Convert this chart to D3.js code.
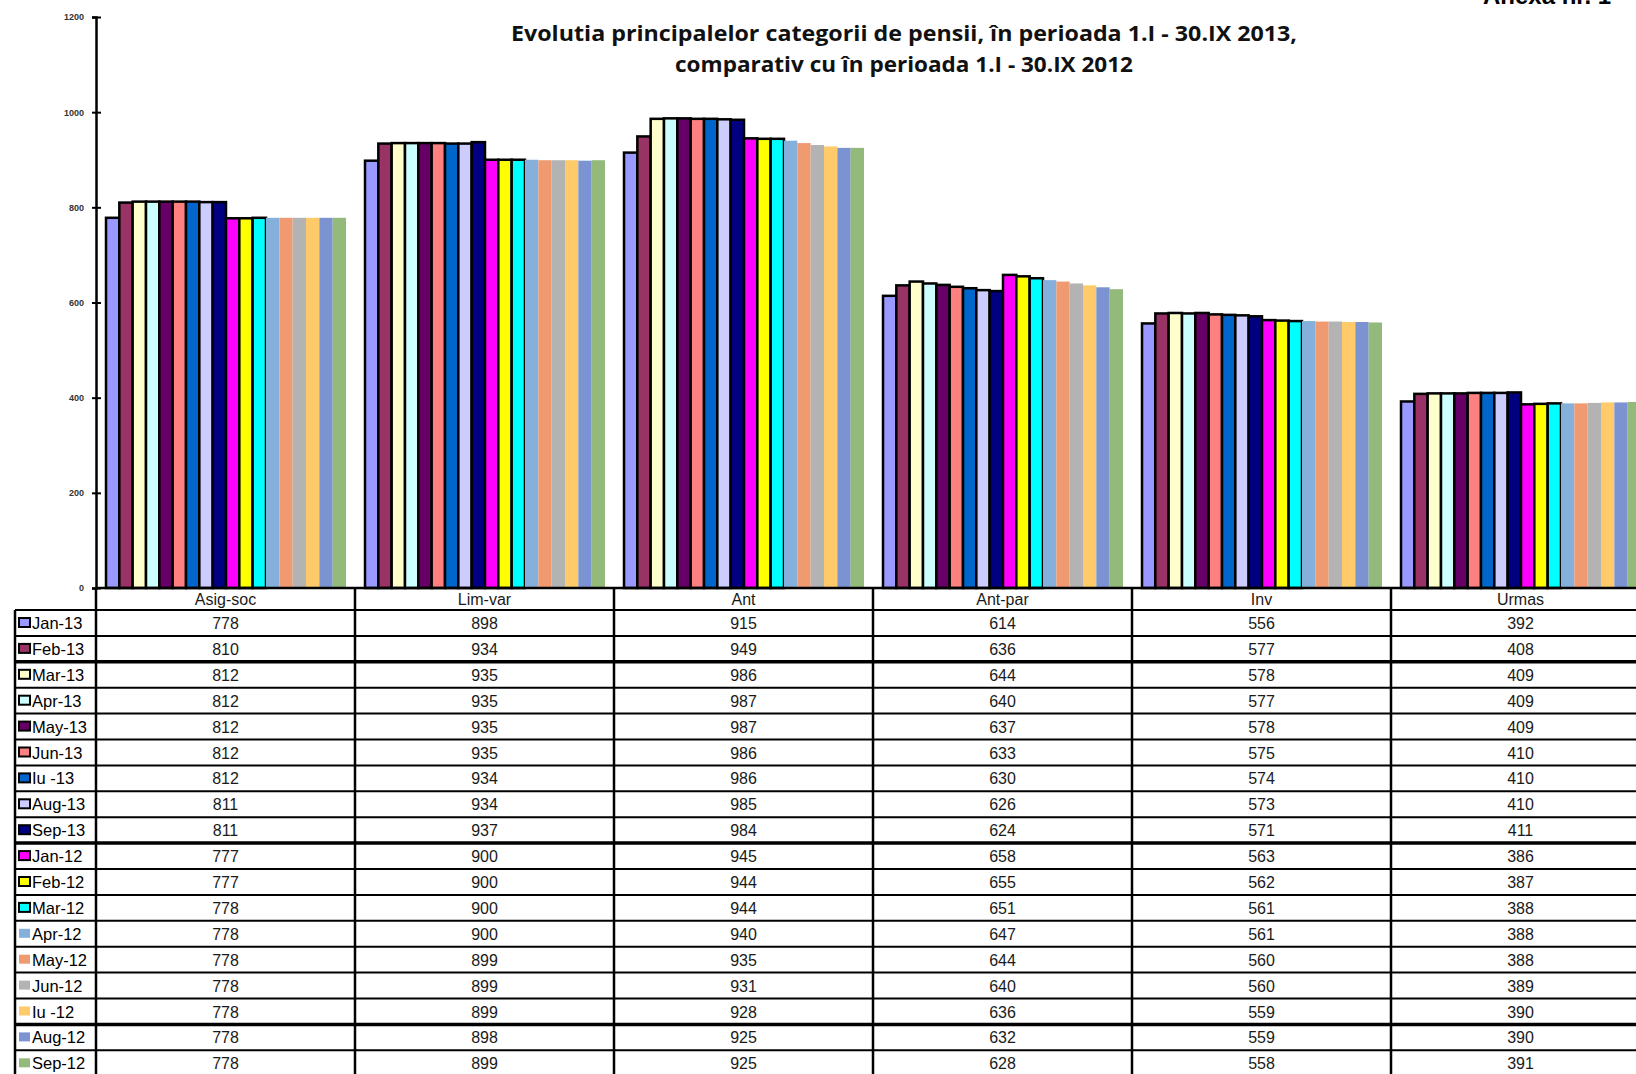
<!DOCTYPE html>
<meta charset="utf-8">
<style>
  body { margin: 0; background: #fff; }
  svg { display: block; }
  .tick-label { font-family: "Liberation Sans", Arial, sans-serif; font-size: 9px; font-weight: bold; fill: #333; }
  .cell { font-family: "Liberation Sans", Arial, sans-serif; font-size: 16px; fill: #1a1a1a; }
  .leg { font-family: "Liberation Sans", Arial, sans-serif; font-size: 16.5px; fill: #000; }
  .title { font-family: "Open Sans", "Noto Sans", sans-serif; font-size: 21px; font-weight: bold; fill: #111; }
</style>
<body>
<div class="chart"></div>
<script src="https://d3js.org/d3.v7.min.js"></script>
<script>

  // categories of pensions (table columns)
  const categories = ["Asig-soc", "Lim-var", "Ant", "Ant-par", "Inv", "Urmas"];

  // months, 2013 then 2012
  const months = ["Jan-13", "Feb-13", "Mar-13", "Apr-13", "May-13", "Jun-13", "Iu -13", "Aug-13", "Sep-13",
    "Jan-12", "Feb-12", "Mar-12", "Apr-12", "May-12", "Jun-12", "Iu -12", "Aug-12", "Sep-12"];

  const monthColors = ["#9999ff", "#993366", "#ffffcc", "#ccffff", "#660066", "#ff8080", "#0066cc", "#ccccff", "#000080",
    "#ff00ff", "#ffff00", "#00ffff", "#85b0dc", "#f09a72", "#b3b3b3", "#ffca6a", "#7b93d0", "#93ba7a"];

  // the first 12 series have a black outline in the original
  const outlined = 12;

  // values, one list per category, in the order of months
  const asigSoc = [778, 810, 812, 812, 812, 812, 812, 811, 811, 777, 777, 778, 778, 778, 778, 778, 778, 778];
  const limVar = [898, 934, 935, 935, 935, 935, 934, 934, 937, 900, 900, 900, 900, 899, 899, 899, 898, 899];
  const ant = [915, 949, 986, 987, 987, 986, 986, 985, 984, 945, 944, 944, 940, 935, 931, 928, 925, 925];
  const antPar = [614, 636, 644, 640, 637, 633, 630, 626, 624, 658, 655, 651, 647, 644, 640, 636, 632, 628];
  const inv = [556, 577, 578, 577, 578, 575, 574, 573, 571, 563, 562, 561, 561, 560, 560, 559, 559, 558];
  const urmas = [392, 408, 409, 409, 409, 410, 410, 410, 411, 386, 387, 388, 388, 388, 389, 390, 390, 391];

  const yTicks = [0, 200, 400, 600, 800, 1000, 1200];

  const byCategory = [asigSoc, limVar, ant, antPar, inv, urmas];

  const width = 1636, height = 1074;
  const axisX = 96, colW = 259;
  const rowH = 25.9, headTop = 588, rowsTop = 610, legLeft = 15;

  const svg = d3.select(".chart").append("svg")
    .attr("width", width)
    .attr("height", height);

  // scales
  const x = d3.scaleBand()
    .domain(categories)
    .range([axisX, axisX + colW * categories.length]);

  const xm = d3.scaleBand()
    .domain(months)
    .range([10, colW - 9]);

  const y = d3.scaleLinear()
    .domain([0, 1200])
    .range([headTop, 17]);

  // bars
  const groups = svg.append("g").selectAll("g")
    .data(categories)
    .join("g")
    .attr("transform", (d) => `translate(${x(d)},0)`);

  groups.selectAll("rect")
    .data((c, ci) => months.map((m, i) => ({month: m, i: i, value: byCategory[ci][i]})))
    .join("rect")
    .attr("x", (d) => xm(d.month))
    .attr("y", (d) => y(d.value))
    .attr("width", xm.bandwidth())
    .attr("height", (d) => y(0) - y(d.value))
    .attr("fill", (d) => monthColors[d.i])
    .attr("stroke", (d) => d.i < outlined ? "#000" : "none")
    .attr("stroke-width", 2.5);

  // y axis
  const yAxis = svg.append("g")
    .attr("transform", `translate(${axisX},0)`)
    .call(d3.axisLeft(y).tickValues(yTicks).tickSize(4).tickFormat(d3.format("d")));
  yAxis.select(".domain").attr("stroke", "#000").attr("stroke-width", 2.5);
  yAxis.selectAll(".tick line").attr("x1", -4).attr("x2", 5).attr("stroke", "#000").attr("stroke-width", 2);
  yAxis.selectAll(".tick text").attr("class", "tick-label").attr("x", -12).attr("font-size", null).attr("font-family", null);

  // data table under the plot
  const table = svg.append("g");
  const tableRight = width + 20;

  table.append("line")
    .attr("x1", axisX).attr("x2", tableRight)
    .attr("y1", headTop).attr("y2", headTop)
    .attr("stroke", "#000").attr("stroke-width", 2.5);

  // horizontal row lines, some of them heavier
  const heavy = [2, 9, 16];
  d3.range(months.length).forEach((i) => {
    const yy = rowsTop + i * rowH;
    table.append("line")
      .attr("x1", legLeft).attr("x2", tableRight)
      .attr("y1", yy).attr("y2", yy)
      .attr("stroke", "#000")
      .attr("stroke-width", heavy.includes(i) ? 3.5 : 2);
  });

  // vertical lines
  table.append("line")
    .attr("x1", legLeft).attr("x2", legLeft)
    .attr("y1", rowsTop).attr("y2", height)
    .attr("stroke", "#000").attr("stroke-width", 2.5);
  categories.forEach((c) => {
    const xx = x(c);
    table.append("line")
      .attr("x1", xx).attr("x2", xx)
      .attr("y1", headTop).attr("y2", height)
      .attr("stroke", "#000").attr("stroke-width", 2.5);
  });

  // header labels
  table.selectAll(".head")
    .data(categories)
    .join("text")
    .attr("class", "cell")
    .attr("x", (d) => x(d) + colW / 2)
    .attr("y", headTop + 17)
    .attr("text-anchor", "middle")
    .text((d) => d);

  // legend column
  const leg = table.selectAll(".legrow")
    .data(months)
    .join("g")
    .attr("transform", (d, i) => `translate(0,${rowsTop + i * rowH})`);

  leg.append("rect")
    .attr("x", 19).attr("y", 8)
    .attr("width", 11).attr("height", 9)
    .attr("fill", (d, i) => monthColors[i])
    .attr("stroke", (d, i) => i < outlined ? "#000" : "none")
    .attr("stroke-width", 2);

  leg.append("text")
    .attr("class", "leg")
    .attr("x", 32)
    .attr("y", 19)
    .text((d) => d);

  // values
  categories.forEach((c, ci) => {
    table.append("g").selectAll("text")
      .data(byCategory[ci])
      .join("text")
      .attr("class", "cell")
      .attr("x", x(c) + colW / 2)
      .attr("y", (d, i) => rowsTop + i * rowH + 19)
      .attr("text-anchor", "middle")
      .text((d) => d);
  });

  // titles
  svg.append("text")
    .attr("class", "title")
    .attr("x", 904).attr("y", 41)
    .attr("text-anchor", "middle")
    .attr("textLength", 786)
    .attr("lengthAdjust", "spacingAndGlyphs")
    .text("Evolutia principalelor categorii de pensii,  în perioada 1.I  - 30.IX 2013,");

  svg.append("text")
    .attr("class", "title")
    .attr("x", 904).attr("y", 72)
    .attr("text-anchor", "middle")
    .attr("textLength", 458)
    .attr("lengthAdjust", "spacingAndGlyphs")
    .text("comparativ cu în perioada 1.I  - 30.IX  2012");

  // page annex label, cut by the top edge as in the scan
  svg.append("text")
    .attr("x", 1483).attr("y", 4)
    .attr("font-family", "Liberation Sans, Arial, sans-serif")
    .attr("font-size", 24)
    .attr("font-weight", "bold")
    .text("Anexa nr. 1");

</script>
</body>
